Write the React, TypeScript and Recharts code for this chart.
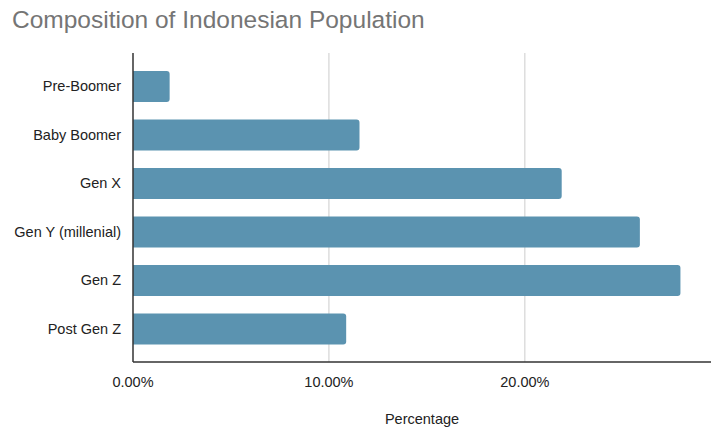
import { BarChart, Bar, XAxis, YAxis, CartesianGrid, Label } from 'recharts';

const generations = ['Pre-Boomer', 'Baby Boomer', 'Gen X', 'Gen Y (millenial)', 'Gen Z', 'Post Gen Z'];
const shares = [0.0187, 0.1156, 0.2188, 0.2587, 0.2794, 0.1088];
const xTicks = [0, 0.1, 0.2];
const gridValues = [0.1, 0.2];

const data = generations.map((name, i) => ({ name, value: shares[i] }));

const fmtPct = (v: number) => (v * 100).toFixed(2) + '%';

function App() {
    return (
        <div style={{
            position: 'absolute',
            top: 0,
            left: 0,
            width: 712,
            height: 429,
            background: '#fff',
            fontFamily: '"Liberation Sans", Arial, sans-serif'
        }}>
            <div style={{
                position: 'absolute',
                top: 6,
                left: 12,
                fontSize: 24.5,
                color: '#757575'
            }}>
                Composition of Indonesian Population
            </div>
            <BarChart
                width={712}
                height={429}
                data={data}
                layout="vertical"
                margin={{ top: 53, right: 1, bottom: 0, left: 0 }}
            >
                <CartesianGrid horizontal={false} stroke="#cccccc" verticalValues={gridValues} />
                <XAxis
                    type="number"
                    domain={[0, 0.295]}
                    ticks={xTicks}
                    tickFormatter={fmtPct}
                    height={67}
                    axisLine={{ stroke: '#333', strokeWidth: 1.5 }}
                    tickLine={false}
                    tick={{ fill: '#222', fontSize: 14.5 }}
                    tickMargin={9}
                >
                    <Label value="Percentage" position="insideBottom" offset={5} fill="#222" fontSize={14.5} />
                </XAxis>
                <YAxis
                    type="category"
                    dataKey="name"
                    width={133}
                    padding={{ top: 9, bottom: 9 }}
                    axisLine={{ stroke: '#333', strokeWidth: 1.5 }}
                    tickLine={false}
                    tick={{ fill: '#222', fontSize: 14.5 }}
                    tickMargin={6}
                />
                <Bar dataKey="value" fill="#5b93b0" barSize={31} radius={[0, 3, 3, 0]} isAnimationActive={false} />
            </BarChart>
        </div>
    );
}

export default App;
